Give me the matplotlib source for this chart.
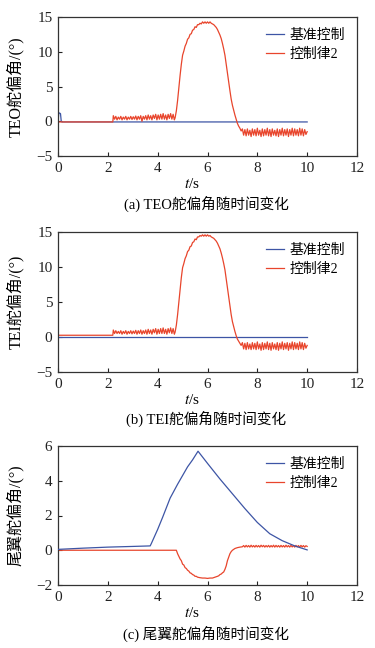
import numpy as np
import matplotlib
matplotlib.use("Agg")
import matplotlib.pyplot as plt

plt.rcParams['font.family'] = ['Liberation Serif', 'Noto Sans CJK SC', 'DejaVu Sans']
plt.rcParams['mathtext.fontset'] = 'stix'
plt.rcParams['axes.unicode_minus'] = True

BLUE = '#3d55a5'
RED = '#e8452c'

legend_labels = ['基准控制', '控制律2']
ylabels = ['TEO舵偏角/(°)', 'TEI舵偏角/(°)', '尾翼舵偏角/(°)']
captions = ['(a) TEO舵偏角随时间变化', '(b) TEI舵偏角随时间变化', '(c) 尾翼舵偏角随时间变化']
xticks = [0, 2, 4, 6, 8, 10, 12]
yticks_list = [[-5, 0, 5, 10, 15], [-5, 0, 5, 10, 15], [-2, 0, 2, 4, 6]]

peak_t = [4.70, 4.75, 4.80, 4.85, 4.90, 4.95, 5.00, 5.05, 5.10, 5.15,
          5.20, 5.25, 5.30, 5.35, 5.40, 5.45, 5.50, 5.55, 5.60, 5.65,
          5.70, 5.75, 5.80, 5.85, 5.90, 5.95, 6.00, 6.05, 6.10, 6.15,
          6.20, 6.25, 6.30, 6.35, 6.40, 6.45, 6.50, 6.55, 6.60, 6.65,
          6.70, 6.75, 6.80, 6.85, 6.90, 6.95, 7.00, 7.05, 7.10, 7.15,
          7.20, 7.25, 7.30, 7.35]

# ---------------- panel (a) TEO ----------------
a_base_t = [0.0, 0.03, 0.05, 0.10, 0.13, 0.16, 10.0]
a_base_y = [0.0, 1.1, 1.2, 1.1, 0.0, -0.1, -0.1]

a_law_t0 = [0.0, 2.20]
a_law_y0 = [-0.1, -0.1]
a_law_t_mid = np.round(np.arange(2.22, 4.70, 0.05), 3)
a_law_y_mid = [0.8, 0.3, 0.7, 0.2, 0.6, 0.3, 0.7, 0.2, 0.6, 0.3,
               0.7, 0.2, 0.6, 0.3, 0.7, 0.25, 0.65, 0.3, 0.75, 0.2,
               0.7, 0.3, 0.8, 0.0, 0.7, 0.3, 0.8, 0.2, 0.9, 0.3,
               0.8, 0.2, 0.9, 0.4, 1.0, 0.2, 0.9, 0.3, 1.0, 0.3,
               1.1, 0.3, 0.9, 0.2, 1.0, 0.4, 1.1, 0.3, 1.0, 0.2]
a_law_y_peak = [0.5, 1.5, 3.0, 4.8, 6.6, 8.2, 9.5, 10.1, 10.8, 11.2,
                11.8, 12.0, 12.5, 12.6, 13.1, 13.2, 13.6, 13.5, 13.9, 13.9,
                14.1, 14.0, 14.3, 14.1, 14.3, 14.1, 14.3, 14.1, 14.3, 14.1,
                14.0, 13.9, 13.7, 13.5, 13.2, 12.8, 12.4, 11.9, 11.2, 10.4,
                9.5, 8.2, 7.0, 5.7, 4.4, 3.2, 2.3, 1.6, 0.9, 0.3,
                -0.3, -0.7, -1.0, -1.4]
a_law_t_end = np.round(np.arange(7.40, 10.01, 0.05), 3)
a_law_y_end = [-1.1, -2.0, -1.2, -2.1, -1.1, -2.0, -1.3, -2.2, -1.1, -2.0,
               -1.2, -2.1, -1.0, -2.0, -1.3, -2.2, -1.1, -2.1, -1.2, -2.0,
               -1.0, -2.1, -1.2, -2.2, -1.1, -2.0, -1.3, -2.1, -1.1, -2.2,
               -1.2, -2.0, -1.0, -2.1, -1.2, -2.0, -1.1, -2.2, -1.2, -2.0,
               -1.0, -2.1, -1.1, -2.0, -1.2, -2.1, -1.0, -2.0, -1.1, -2.1,
               -1.2, -1.9, -1.5]

# ---------------- panel (b) TEI ----------------
b_base_t = [0.0, 10.0]
b_base_y = [0.05, 0.05]

b_law_t0 = [0.0, 2.20]
b_law_y0 = [0.25, 0.25]
b_law_t_mid = np.round(np.arange(2.22, 4.70, 0.05), 3)
b_law_y_mid = [1.0, 0.5, 0.9, 0.5, 0.8, 0.5, 0.9, 0.4, 0.8, 0.5,
               0.9, 0.4, 0.8, 0.5, 0.9, 0.45, 0.85, 0.5, 0.95, 0.4,
               0.9, 0.5, 1.0, 0.4, 0.9, 0.5, 1.0, 0.4, 1.1, 0.5,
               1.0, 0.4, 1.1, 0.6, 1.2, 0.4, 1.1, 0.5, 1.2, 0.5,
               1.3, 0.5, 1.1, 0.4, 1.2, 0.6, 1.3, 0.5, 1.2, 0.4]
b_law_y_peak = [0.7, 1.7, 3.2, 5.0, 6.9, 8.5, 9.9, 10.5, 11.2, 11.6,
                12.2, 12.4, 12.9, 13.0, 13.5, 13.6, 14.0, 13.9, 14.3, 14.3,
                14.5, 14.4, 14.6, 14.4, 14.6, 14.4, 14.6, 14.4, 14.5, 14.3,
                14.2, 14.1, 13.9, 13.7, 13.4, 13.0, 12.6, 12.0, 11.3, 10.5,
                9.6, 8.3, 7.0, 5.7, 4.4, 3.2, 2.2, 1.5, 0.8, 0.2,
                -0.3, -0.6, -0.9, -1.2]
b_law_t_end = np.round(np.arange(7.40, 10.01, 0.05), 3)
b_law_y_end = [-0.8, -1.7, -0.9, -1.8, -0.8, -1.7, -1.0, -1.8, -0.8, -1.7,
               -0.9, -1.8, -0.7, -1.7, -1.0, -1.9, -0.8, -1.8, -0.9, -1.7,
               -0.7, -1.8, -0.9, -1.9, -0.8, -1.7, -1.0, -1.8, -0.8, -1.9,
               -0.9, -1.7, -0.7, -1.8, -0.9, -1.7, -0.8, -1.9, -0.9, -1.7,
               -0.7, -1.8, -0.8, -1.7, -0.9, -1.8, -0.7, -1.7, -0.8, -1.8,
               -0.9, -1.6, -1.2]

# ---------------- panel (c) tail ----------------
c_base_t = [0.0, 1.0, 2.0, 3.0, 3.70, 3.75, 4.0, 4.2, 4.5, 4.8, 5.0, 5.2, 5.4, 5.62,
            6.0, 6.5, 7.0, 7.5, 8.0, 8.5, 9.0, 9.5, 10.0]
c_base_y = [0.05, 0.12, 0.18, 0.22, 0.25, 0.4, 1.2, 1.9, 3.0, 3.8, 4.3, 4.8, 5.2, 5.7,
            5.0, 4.1, 3.25, 2.4, 1.6, 0.95, 0.55, 0.25, 0.02]

c_law_t0 = [0.0, 4.75, 4.80, 4.85, 4.90, 4.95, 5.00, 5.05, 5.10, 5.15, 5.20, 5.25,
            5.30, 5.35, 5.40, 5.45, 5.50, 5.55, 5.60, 5.70, 5.80, 5.90, 6.00, 6.10,
            6.20, 6.30, 6.40, 6.45, 6.50, 6.55, 6.60, 6.65, 6.70, 6.75, 6.80, 6.85,
            6.90, 6.95, 7.00, 7.05, 7.10, 7.20, 7.30]
c_law_y0 = [0.0, 0.0, -0.2, -0.35, -0.5, -0.6, -0.8, -0.85, -1.0, -1.05, -1.15, -1.2,
            -1.3, -1.33, -1.4, -1.43, -1.5, -1.5, -1.55, -1.58, -1.6, -1.6, -1.62, -1.6,
            -1.6, -1.55, -1.5, -1.47, -1.4, -1.37, -1.3, -1.25, -1.1, -0.9, -0.6, -0.4,
            -0.2, -0.08, 0.0, 0.05, 0.1, 0.15, 0.18]
c_law_t_end = np.round(np.arange(7.40, 10.01, 0.05), 3)
c_law_y_end = [0.20, 0.27, 0.18, 0.28, 0.19, 0.27, 0.18, 0.29, 0.19, 0.27,
               0.18, 0.28, 0.19, 0.27, 0.18, 0.29, 0.20, 0.28, 0.18, 0.27,
               0.19, 0.28, 0.18, 0.27, 0.19, 0.29, 0.18, 0.28, 0.19, 0.27,
               0.18, 0.28, 0.19, 0.27, 0.18, 0.29, 0.19, 0.27, 0.18, 0.28,
               0.19, 0.27, 0.18, 0.28, 0.19, 0.27, 0.18, 0.28, 0.19, 0.27,
               0.18, 0.26, 0.22]

panels = [
    dict(base=(a_base_t, a_base_y),
         law=(np.concatenate([a_law_t0, a_law_t_mid, peak_t, a_law_t_end]),
              np.concatenate([a_law_y0, a_law_y_mid, a_law_y_peak, a_law_y_end])),
         ylim=(-5, 15)),
    dict(base=(b_base_t, b_base_y),
         law=(np.concatenate([b_law_t0, b_law_t_mid, peak_t, b_law_t_end]),
              np.concatenate([b_law_y0, b_law_y_mid, b_law_y_peak, b_law_y_end])),
         ylim=(-5, 15)),
    dict(base=(c_base_t, c_base_y),
         law=(np.concatenate([c_law_t0, c_law_t_end]),
              np.concatenate([c_law_y0, c_law_y_end])),
         ylim=(-2, 6)),
]

fig = plt.figure(figsize=(3.75, 6.48), dpi=100)
W, H = 375.0, 648.0
axes_px = [(17, 156), (232, 372), (446, 585)]
caption_y = [204, 419, 634]
left_px, right_px = 58, 357

for i, p in enumerate(panels):
    top, bot = axes_px[i]
    ax = fig.add_axes([left_px / W, 1 - bot / H, (right_px - left_px) / W, (bot - top) / H])
    l1, = ax.plot(*p['base'], color=BLUE, lw=0.9)
    l2, = ax.plot(*p['law'], color=RED, lw=0.9)
    if i == 2:
        l1.set_zorder(3)
    ax.set_xlim(0, 12)
    ax.set_ylim(*p['ylim'])
    ax.set_xticks(xticks)
    ax.set_yticks(yticks_list[i])
    ax.tick_params(direction='in', length=3, width=0.8, labelsize=11, colors='#222222', pad=4)
    for s in ax.spines.values():
        s.set_linewidth(0.9)
        s.set_color('#333333')
    ax.set_ylabel(ylabels[i], fontsize=11.5)
    ax.yaxis.set_label_coords(-0.115, 0.5)
    ax.set_xlabel(r'$\mathit{t}$/s', fontsize=11)
    ax.xaxis.set_label_coords(0.448, -0.15)
    ax.legend([l1, l2], legend_labels, loc='upper left', bbox_to_anchor=(0.695, 0.915),
              frameon=False, fontsize=10, handlelength=1.3, handletextpad=0.4,
              labelspacing=0.45, borderpad=0, borderaxespad=0)
    fig.text(206 / W, 1 - caption_y[i] / H, captions[i], ha='center', va='center', fontsize=10.5)

fig.savefig('out.png', dpi=100)
